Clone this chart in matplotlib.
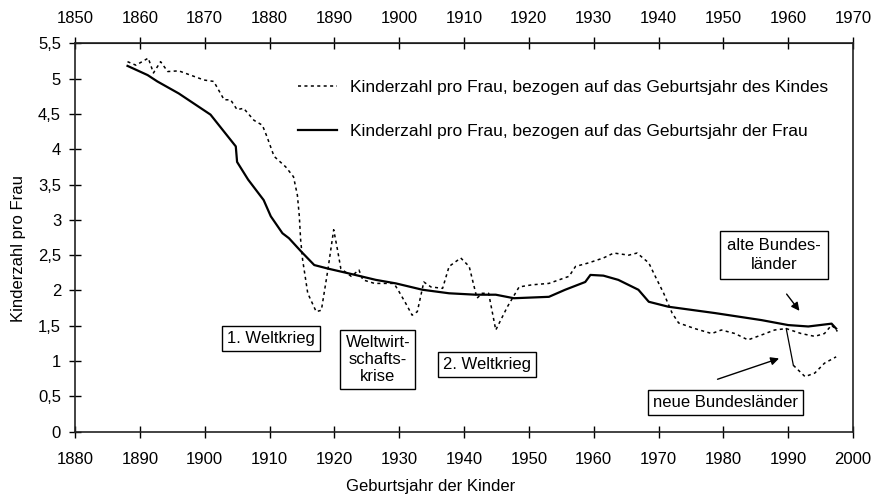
import matplotlib
matplotlib.use("Agg")
import matplotlib.pyplot as plt
from matplotlib.ticker import FuncFormatter

plt.rcParams['font.family'] = ['Liberation Sans', 'DejaVu Sans']
plt.rcParams['font.size'] = 12

# Kinderzahl pro Frau, bezogen auf das Geburtsjahr der Frau (x = Geburtsjahr der Kinder)
frau_jahr = [1888.1, 1891.2, 1892.7, 1896.0, 1900.9, 1904.8, 1905.0, 1906.7, 1909.1,
             1910.2, 1912.0, 1913.0, 1914.9, 1916.9, 1919.0, 1922.3, 1926.4, 1929.5,
             1933.6, 1937.7, 1941.8, 1944.9, 1947.7, 1953.1, 1955.6, 1958.7, 1959.5,
             1961.5, 1963.8, 1966.9, 1968.5, 1971.5, 1978.7, 1985.9, 1990.0, 1993.1,
             1996.7, 1997.4]
frau_wert = [5.18, 5.05, 4.96, 4.79, 4.49, 4.04, 3.82, 3.57, 3.28,
             3.05, 2.81, 2.74, 2.55, 2.36, 2.31, 2.24, 2.15, 2.10,
             2.01, 1.96, 1.94, 1.94, 1.89, 1.91, 2.01, 2.12, 2.22,
             2.21, 2.15, 2.01, 1.84, 1.77, 1.68, 1.58, 1.51, 1.49,
             1.53, 1.46]

# Kinderzahl pro Frau, bezogen auf das Geburtsjahr des Kindes
kind_jahr = [1888.1, 1889.4, 1891.3, 1892.1, 1893.2, 1894.3, 1896.0, 1897.8, 1899.9,
             1901.4, 1903.0, 1904.0, 1905.0, 1906.0, 1907.6, 1908.9, 1909.6, 1910.7,
             1912.5, 1913.7, 1914.3, 1914.6, 1914.8, 1915.1, 1915.9, 1917.2, 1918.0,
             1919.0, 1919.9, 1920.5, 1921.0, 1922.6, 1923.8, 1924.4, 1926.2, 1929.2,
             1930.0, 1931.0, 1932.0, 1932.8, 1933.8, 1934.9, 1936.7, 1937.7, 1939.5,
             1940.8, 1942.0, 1942.8, 1943.8, 1944.9, 1946.7, 1948.5, 1950.5, 1953.1,
             1956.2, 1957.2, 1959.2, 1961.5, 1963.1, 1965.4, 1966.7, 1968.5, 1969.5,
             1970.8, 1972.1, 1973.1, 1975.6, 1978.2, 1979.7, 1981.8, 1983.8, 1985.9,
             1987.9, 1989.7, 1992.0, 1994.1, 1995.6, 1996.7, 1997.6]
kind_wert = [5.24, 5.19, 5.29, 5.08, 5.24, 5.10, 5.11, 5.05, 4.98,
             4.96, 4.70, 4.70, 4.56, 4.58, 4.41, 4.34, 4.18, 3.90,
             3.75, 3.61, 3.35, 3.05, 2.72, 2.44, 1.96, 1.70, 1.72,
             2.29, 2.86, 2.57, 2.31, 2.20, 2.29, 2.15, 2.10, 2.10,
             1.98, 1.82, 1.65, 1.70, 2.12, 2.05, 2.03, 2.34, 2.46,
             2.34, 1.89, 1.96, 1.96, 1.44, 1.77, 2.05, 2.08, 2.10,
             2.20, 2.34, 2.39, 2.46, 2.53, 2.50, 2.53, 2.39, 2.20,
             1.96, 1.68, 1.54, 1.46, 1.39, 1.44, 1.39, 1.30, 1.37,
             1.44, 1.46, 1.39, 1.35, 1.39, 1.51, 1.42]

# neue Bundeslaender ab 1990
neu_jahr = [1989.7, 1990.8, 1992.6, 1994.1, 1995.6, 1997.4]
neu_wert = [1.46, 0.94, 0.78, 0.83, 0.97, 1.06]

unten_ticks = list(range(1880, 2001, 10))
oben_ticks = list(range(1850, 1971, 10))
y_ticks = [0, 0.5, 1, 1.5, 2, 2.5, 3, 3.5, 4, 4.5, 5, 5.5]

fig = plt.figure(figsize=(8.79, 4.99), dpi=100)
ax = fig.add_axes([75/879, 1-431.7/499, (853-75)/879, (431.7-43.3)/499])

dot = (0, (2, 2.2))
ax.plot(kind_jahr, kind_wert, color='black', lw=1.1, ls=dot,
        label='Kinderzahl pro Frau, bezogen auf das Geburtsjahr des Kindes')
ax.plot(frau_jahr, frau_wert, color='black', lw=1.6,
        label='Kinderzahl pro Frau, bezogen auf das Geburtsjahr der Frau')
ax.plot(neu_jahr[:2], neu_wert[:2], color='black', lw=0.9)
ax.plot(neu_jahr[1:], neu_wert[1:], color='black', lw=1.1, ls=dot)

ax.set_xlim(1880, 2000)
ax.set_ylim(0, 5.5)
ax.set_xticks(unten_ticks)
ax.set_yticks(y_ticks)
ax.yaxis.set_major_formatter(FuncFormatter(lambda v, p: ('%g' % v).replace('.', ',')))
ax.tick_params(direction='inout', length=9, width=1, labelsize=12)
ax.tick_params(axis='x', pad=10)
ax.tick_params(axis='y', pad=5.5)
for s in ax.spines.values():
    s.set_linewidth(1.2)
    s.set_color('#222222')

top = ax.secondary_xaxis('top', functions=(lambda x: x - 30, lambda x: x + 30))
top.set_xticks(oben_ticks)
top.tick_params(direction='inout', length=9, width=1, pad=8, labelsize=12)

leg = ax.legend(loc='upper left', bbox_to_anchor=(0.2866, 0.906), frameon=False,
                borderpad=0, borderaxespad=0, handlelength=2.25, handletextpad=0.75,
                labelspacing=1.65, fontsize=12.5)

box = dict(boxstyle='square,pad=0.3', fc='white', ec='black', lw=1)
ax.text(1910.2, 1.32, '1. Weltkrieg', ha='center', va='center', bbox=box)
ax.text(1926.7, 1.02, 'Weltwirt-\nschafts-\nkrise', ha='center', va='center',
        bbox=box, linespacing=1.15)
ax.text(1943.5, 0.95, '2. Weltkrieg', ha='center', va='center', bbox=box)
ax.text(1987.8, 2.50, 'alte Bundes-\nländer', ha='center', va='center',
        bbox=dict(boxstyle='square,pad=0.45', fc='white', ec='black', lw=1),
        linespacing=1.3)
ax.text(1980.3, 0.42, 'neue Bundesländer', ha='center', va='center', bbox=box)

arrow = dict(arrowstyle='-|>', color='black', lw=1, mutation_scale=12)
ax.annotate('', xy=(1992.0, 1.68), xytext=(1989.5, 1.98), arrowprops=arrow)
ax.annotate('', xy=(1989.0, 1.05), xytext=(1978.7, 0.73), arrowprops=arrow)

fig.text(431/879, 1-487/499, 'Geburtsjahr der Kinder', ha='center', va='center', fontsize=12)
fig.text(19/879, 1-248/499, 'Kinderzahl pro Frau', ha='center', va='center',
         rotation=90, fontsize=12)

fig.savefig('out.png', dpi=100)
